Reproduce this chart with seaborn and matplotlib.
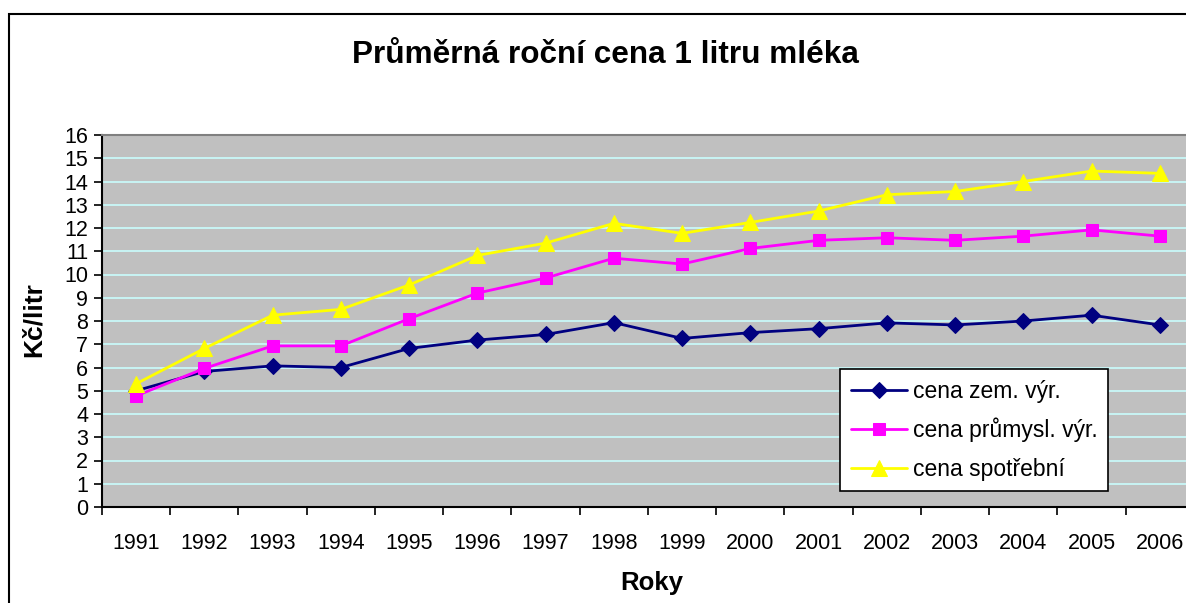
import matplotlib
matplotlib.use("Agg")
import matplotlib.pyplot as plt
from matplotlib.patches import Rectangle
from matplotlib.ticker import FixedLocator, NullFormatter, FixedFormatter
import seaborn as sns
import numpy as np

years = ["1991", "1992", "1993", "1994", "1995", "1996", "1997", "1998",
         "1999", "2000", "2001", "2002", "2003", "2004", "2005", "2006"]
cena_zem = [5.0, 5.83, 6.07, 6.0, 6.82, 7.18, 7.42, 7.93,
            7.25, 7.5, 7.67, 7.92, 7.83, 8.0, 8.25, 7.83]
cena_prum = [4.78, 5.96, 6.93, 6.93, 8.1, 9.2, 9.85, 10.7,
             10.45, 11.12, 11.47, 11.58, 11.47, 11.65, 11.92, 11.65]
cena_spotr = [5.3, 6.82, 8.25, 8.5, 9.55, 10.82, 11.35, 12.2,
              11.77, 12.24, 12.73, 13.43, 13.57, 14.0, 14.45, 14.35]
series_names = ["cena zem. výr.", "cena průmysl. výr.", "cena spotřební"]
yticks = list(range(0, 17))

sns.set_theme(style="white")
plt.rcParams["font.family"] = ["Liberation Sans", "DejaVu Sans"]
plt.rcParams["text.color"] = "black"

W, H = 1186, 603
fig = plt.figure(figsize=(W / 100, H / 100), dpi=100)
left, right, top, bottom = 102, 1194, 135, 507
ax = fig.add_axes([left / W, 1 - bottom / H, (right - left) / W, (bottom - top) / H])
ax.set_facecolor("#C0C0C0")

idx = np.arange(len(years))
styles = [
    (cena_zem, "#000080", "D", 8),
    (cena_prum, "#FF00FF", "s", 8.5),
    (cena_spotr, "#FFFF00", "^", 11),
]
for (vals, col, mk, ms), name in zip(styles, series_names):
    sns.lineplot(x=idx, y=vals, ax=ax, color=col, marker=mk, markersize=ms,
                 markeredgecolor=col, linewidth=2, label=name, zorder=3)

ax.set_xlim(-0.5, len(years) - 0.5)
ax.set_ylim(0, 16)
ax.yaxis.set_major_locator(FixedLocator(yticks))
ax.set_yticklabels([str(t) for t in yticks])
ax.grid(axis="y", color="#C8F4F4", linewidth=1.4)
ax.set_axisbelow(True)

ax.xaxis.set_major_locator(FixedLocator(np.arange(-0.5, len(years), 1.0)))
ax.xaxis.set_major_formatter(NullFormatter())
ax.xaxis.set_minor_locator(FixedLocator(idx))
ax.xaxis.set_minor_formatter(FixedFormatter(years))
ax.tick_params(axis="x", which="major", length=6, width=1.2, color="black", direction="out", bottom=True)
ax.tick_params(axis="x", which="minor", length=0, pad=19, labelsize=15.5, labelcolor="black", bottom=True)
ax.tick_params(axis="y", which="major", length=6, width=1.2, color="black", direction="out",
               labelsize=15.5, labelcolor="black", left=True, pad=4)

for s in ["left", "bottom"]:
    ax.spines[s].set_color("black")
    ax.spines[s].set_linewidth(1.5)
ax.spines["top"].set_color("#808080")
ax.spines["top"].set_linewidth(1.5)
ax.spines["right"].set_visible(False)

ax.set_xlabel("")
ax.set_ylabel("")

leg = ax.legend(loc="upper left", bbox_to_anchor=(840 / W, 1 - 369 / H),
                bbox_transform=fig.transFigure, fontsize=16.5, frameon=True,
                fancybox=False, edgecolor="black", facecolor="white", framealpha=1,
                handlelength=2.45, handletextpad=0.26, labelspacing=0.66,
                borderpad=0.47, borderaxespad=0)
leg.get_frame().set_linewidth(1.2)
for t in leg.get_texts():
    t.set_color("black")

fig.text(605 / W, 1 - 55 / H, "Průměrná roční cena 1 litru mléka", ha="center", va="center",
         fontsize=22.7, fontweight="bold", color="black")
fig.text(652 / W, 1 - 583 / H, "Roky", ha="center", va="center", fontsize=18.5,
         fontweight="bold", color="black")
fig.text(34 / W, 1 - 320 / H, "Kč/litr", ha="center", va="center", rotation=90,
         fontsize=19, fontweight="bold", color="black")

fig.add_artist(Rectangle((9 / W, -0.1), 1.2, 1 - 14 / H + 0.1, transform=fig.transFigure,
                         fill=False, edgecolor="black", linewidth=1.5))

fig.savefig("out.png", dpi=100)
